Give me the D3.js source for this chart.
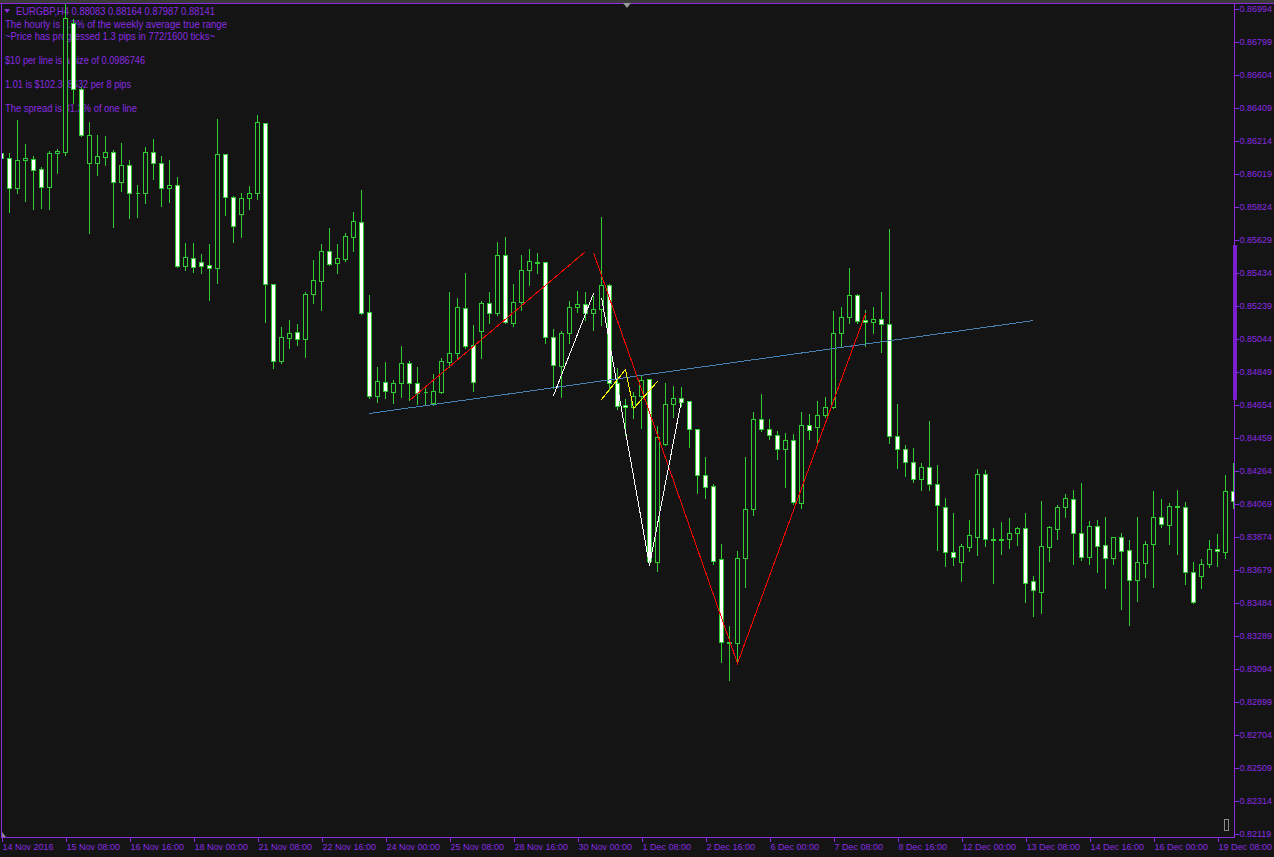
<!DOCTYPE html>
<html>
<head>
<meta charset="utf-8">
<script src="https://cdn.jsdelivr.net/npm/d3@7"></script>
<style>
  html, body { margin: 0; padding: 0; background: #141414; overflow: hidden; }
  svg { display: block; }
  text { font-family: "Liberation Sans", Arial, sans-serif; }
</style>
</head>
<body>
<div id="chart"></div>
<script>
// EURGBP H4, one value per bar, bar 0 = 14 Nov 2016 00:00
var opens = [
  0.86143,0.86114,0.85936,0.86102,0.86108,0.86049,0.85942,0.86143,0.86149,0.86911,
  0.86521,0.86084,0.86084,0.86120,0.86149,0.85972,0.86072,0.85907,0.85907,0.86149,
  0.86084,0.85936,0.85954,0.85475,0.85523,0.85499,0.85481,0.85463,0.86137,0.85883,
  0.85783,0.85877,0.85907,0.86320,0.85369,0.84914,0.85050,0.85086,0.85044,0.85310,
  0.85387,0.85564,0.85493,0.85517,0.85647,0.85735,0.85204,0.84707,0.84790,0.84731,
  0.84784,0.84902,0.84784,0.84731,0.84666,0.84731,0.84908,0.84961,0.85227,0.85009,
  0.85091,0.85257,0.85198,0.85540,0.85139,0.85263,0.85452,0.85493,0.85499,0.85056,
  0.84884,0.85080,0.85233,0.85251,0.85198,0.85221,0.85363,0.84784,0.84654,0.84642,
  0.84707,0.84808,0.83726,0.84424,0.84660,0.84695,0.84678,0.84512,0.84240,0.84175,
  0.83744,0.83248,0.83248,0.83750,0.84039,0.84571,0.84512,0.84477,0.84394,0.84447,
  0.84075,0.84536,0.84524,0.84595,0.84642,0.85080,0.85174,0.85304,0.85156,0.85144,
  0.85162,0.85133,0.84471,0.84394,0.84317,0.84217,0.84288,0.84187,0.84051,0.83785,
  0.83726,0.83815,0.83874,0.84246,0.83862,0.83859,0.83862,0.83898,0.83927,0.83614,
  0.83549,0.83815,0.83921,0.84051,0.84099,0.83898,0.83756,0.83939,0.83827,0.83750,
  0.83874,0.83797,0.83620,0.83720,0.83833,0.83992,0.83945,0.84057,0.84051,0.83667,
  0.83644,0.83714,0.83803,0.83785,0.84146
];
var highs = [
  0.86238,0.86149,0.86344,0.86202,0.86131,0.86066,0.86161,0.86173,0.87029,0.86941,
  0.86539,0.86332,0.86256,0.86250,0.86167,0.86208,0.86108,0.85960,0.86184,0.86232,
  0.86131,0.86108,0.86007,0.85617,0.85617,0.85552,0.85611,0.86350,0.86143,0.85895,
  0.85913,0.85954,0.86374,0.86326,0.85375,0.85121,0.85162,0.85139,0.85328,0.85517,
  0.85611,0.85706,0.85611,0.85676,0.85800,0.85930,0.85310,0.84884,0.84914,0.84808,
  0.85009,0.84920,0.84884,0.84772,0.84843,0.84938,0.85328,0.85292,0.85440,0.85133,
  0.85275,0.85328,0.85623,0.85653,0.85375,0.85546,0.85582,0.85558,0.85505,0.85109,
  0.85097,0.85275,0.85334,0.85328,0.85304,0.85771,0.85375,0.84878,0.84695,0.84737,
  0.84837,0.84814,0.84536,0.84790,0.84772,0.84766,0.84684,0.84518,0.84352,0.84193,
  0.83839,0.83354,0.83797,0.84352,0.84619,0.84725,0.84577,0.84506,0.84494,0.84489,
  0.84619,0.84607,0.84684,0.84707,0.85215,0.85239,0.85469,0.85316,0.85221,0.85239,
  0.85328,0.85700,0.84666,0.84424,0.84406,0.84317,0.84565,0.84305,0.84110,0.84022,
  0.83839,0.83980,0.84282,0.84276,0.83933,0.83969,0.83992,0.83939,0.84022,0.83650,
  0.84093,0.83945,0.84069,0.84134,0.84158,0.84199,0.83974,0.83980,0.83998,0.83880,
  0.83904,0.83862,0.83998,0.83856,0.84152,0.84104,0.84081,0.84158,0.84087,0.83732,
  0.83750,0.83862,0.83898,0.84246,0.84317
];
var lows = [
  0.85984,0.85794,0.85907,0.85859,0.85812,0.85818,0.85812,0.86025,0.86131,0.86439,
  0.86244,0.85670,0.86013,0.86072,0.85706,0.85919,0.85759,0.85765,0.85848,0.85989,
  0.85830,0.85854,0.85469,0.85452,0.85440,0.85434,0.85275,0.85375,0.85777,0.85617,
  0.85647,0.85812,0.85871,0.85144,0.84873,0.84902,0.84991,0.85009,0.84938,0.85257,
  0.85215,0.85481,0.85434,0.85505,0.85564,0.85192,0.84695,0.84672,0.84695,0.84666,
  0.84701,0.84684,0.84660,0.84654,0.84654,0.84725,0.84878,0.84932,0.84991,0.84737,
  0.84932,0.85139,0.85186,0.85139,0.85121,0.85215,0.85363,0.85434,0.85021,0.84754,
  0.84701,0.85021,0.85204,0.85156,0.85097,0.85127,0.84743,0.84630,0.84477,0.84577,
  0.84518,0.83709,0.83673,0.84418,0.84583,0.84648,0.84406,0.84134,0.84104,0.83714,
  0.83136,0.83029,0.83136,0.83579,0.84004,0.84500,0.84453,0.84335,0.84170,0.84069,
  0.84045,0.84453,0.84435,0.84583,0.84636,0.84997,0.85139,0.85139,0.85003,0.85080,
  0.84967,0.84430,0.84282,0.84234,0.84199,0.84152,0.84152,0.83797,0.83703,0.83709,
  0.83614,0.83791,0.83768,0.83821,0.83602,0.83774,0.83809,0.83827,0.83490,0.83407,
  0.83425,0.83732,0.83862,0.83992,0.83714,0.83738,0.83714,0.83667,0.83573,0.83714,
  0.83448,0.83354,0.83496,0.83638,0.83579,0.83933,0.83833,0.83774,0.83596,0.83484,
  0.83573,0.83697,0.83703,0.83750,0.84045
];
var closes = [
  0.86114,0.85936,0.86102,0.86114,0.86043,0.85942,0.86143,0.86155,0.86941,0.86521,
  0.86250,0.86250,0.86126,0.86149,0.85972,0.86072,0.85907,0.85904,0.86149,0.86084,
  0.85936,0.85954,0.85475,0.85529,0.85469,0.85475,0.85463,0.86137,0.85883,0.85712,
  0.85877,0.85907,0.86326,0.85369,0.84914,0.85056,0.85080,0.85044,0.85310,0.85393,
  0.85564,0.85487,0.85523,0.85653,0.85741,0.85198,0.84707,0.84796,0.84737,0.84784,
  0.84902,0.84784,0.84725,0.84728,0.84737,0.84914,0.84961,0.85233,0.85003,0.84790,
  0.85257,0.85198,0.85540,0.85144,0.85263,0.85452,0.85505,0.85499,0.85056,0.84890,
  0.85080,0.85233,0.85251,0.85198,0.85221,0.85363,0.84784,0.84648,0.84642,0.84707,
  0.84802,0.83732,0.84465,0.84660,0.84695,0.84672,0.84512,0.84240,0.84170,0.83732,
  0.83254,0.83254,0.83750,0.84039,0.84571,0.84512,0.84477,0.84394,0.84447,0.84081,
  0.84536,0.84506,0.84595,0.84642,0.85080,0.85174,0.85304,0.85150,0.85144,0.85162,
  0.85133,0.84471,0.84394,0.84317,0.84217,0.84288,0.84187,0.84063,0.83785,0.83756,
  0.83821,0.83886,0.84246,0.83862,0.83859,0.83862,0.83898,0.83927,0.83602,0.83561,
  0.83821,0.83933,0.84051,0.84104,0.83898,0.83756,0.83939,0.83821,0.83750,0.83874,
  0.83791,0.83620,0.83726,0.83833,0.83992,0.83951,0.84057,0.84054,0.83667,0.83490,
  0.83714,0.83803,0.83791,0.84146,0.84087
];

var timeLabels = ["14 Nov 2016","15 Nov 08:00","16 Nov 16:00","18 Nov 00:00","21 Nov 08:00",
  "22 Nov 16:00","24 Nov 00:00","25 Nov 08:00","28 Nov 16:00","30 Nov 00:00","1 Dec 08:00",
  "2 Dec 16:00","6 Dec 00:00","7 Dec 08:00","8 Dec 16:00","12 Dec 00:00","13 Dec 08:00",
  "14 Dec 16:00","16 Dec 00:00","19 Dec 08:00"];
var barsPerLabel = 8;

var priceTicks = [0.86994,0.86799,0.86604,0.86409,0.86214,0.86019,0.85824,0.85629,0.85434,
  0.85239,0.85044,0.84849,0.84654,0.84459,0.84264,0.84069,0.83874,0.83679,0.83484,0.83289,
  0.83094,0.82899,0.82704,0.82509,0.82314,0.82119];

// drawn objects: [bar index, price]
var blueTrend = [[46, 0.84607], [129, 0.85156]];
var redLeg1 = [[51, 0.84684], [73, 0.85564]];
var redLeg2 = [[74, 0.85558], [92, 0.83130], [108, 0.85198]];
var whiteLeg1 = [[69, 0.84713], [74, 0.85316]];
var whiteLeg2 = [[75, 0.85292], [81, 0.83709], [85, 0.84684]];
var yellowLeg = [[75, 0.84689], [78, 0.84867], [79, 0.84636], [82, 0.84796]];
var axisBand = [0.85599, 0.84684];

var infoLines = [
  "The hourly is 2.3% of the weekly average true range",
  "~Price has progressed  1.3  pips in 772/1600 ticks~",
  "",
  "$10 per line is a size of 0.0986746",
  "",
  "1.01 is $102.398632 per 8 pips",
  "",
  "The spread is 31.3% of one line"
];
var header = "EURGBP,H4  0.88083 0.88164 0.87987 0.88141";

var W = 1274, H = 857;
var plot = { left: 1, right: 1234, top: 3, bottom: 837 };
var purple = "#8a2be2", green = "#32cd32", bg = "#141414";

var svg = d3.select("#chart").append("svg")
  .attr("width", W).attr("height", H)
  .style("background", bg);

var x = d3.scaleLinear().domain([0, opens.length - 1]).range([1, 1233]);
var y = d3.scaleLinear().domain([0.82119, 0.86994]).range([834, 9]);

svg.append("defs").append("clipPath").attr("id", "plotclip")
  .append("rect")
  .attr("x", plot.left + 1).attr("y", plot.top + 1)
  .attr("width", plot.right - plot.left - 1)
  .attr("height", plot.bottom - plot.top - 1);

// top strip
svg.append("rect").attr("x", 0).attr("y", 0).attr("width", W).attr("height", 3).attr("fill", "#3a3a3a");

// info text (behind the bars)
var info = svg.append("g").attr("fill", purple).attr("font-size", "10.5px");
info.append("path")
  .attr("d", "M4,9 L10,9 L7,13 Z").attr("fill", purple);
info.append("text").attr("x", 16).attr("y", 15).text(header)
  .attr("textLength", 199).attr("lengthAdjust", "spacingAndGlyphs");
var infoWidths = [222, 210, 0, 140, 0, 126, 0, 132];
infoLines.forEach(function(t, i) {
  if (!t) return;
  info.append("text").attr("x", 5).attr("y", 28 + i * 12).text(t)
    .attr("textLength", infoWidths[i]).attr("lengthAdjust", "spacingAndGlyphs");
});

var g = svg.append("g").attr("clip-path", "url(#plotclip)");

var bars = d3.range(opens.length).map(function(i) {
  return { i: i, o: opens[i], h: highs[i], l: lows[i], c: closes[i] };
});

function px(v) { return Math.round(v) + 0.5; }

// wicks
g.selectAll(".wick").data(bars).enter().append("line")
  .attr("class", "wick")
  .attr("x1", function(d) { return px(x(d.i)); })
  .attr("x2", function(d) { return px(x(d.i)); })
  .attr("y1", function(d) { return px(y(d.h)); })
  .attr("y2", function(d) { return px(y(d.l)); })
  .attr("stroke", green).attr("stroke-width", 1)
  .attr("shape-rendering", "crispEdges");

// bodies: down bars filled white, up bars hollow
g.selectAll(".body").data(bars).enter().append("path")
  .attr("class", "body")
  .attr("d", function(d) {
    var cx = Math.round(x(d.i));
    var y0 = px(y(Math.max(d.o, d.c))), y1 = px(y(Math.min(d.o, d.c)));
    return "M" + (cx - 1.5) + "," + y0 + "H" + (cx + 2.5) + "V" + y1 + "H" + (cx - 1.5) + "Z";
  })
  .attr("fill", function(d) { return d.c < d.o ? "#ffffff" : bg; })
  .attr("stroke", green).attr("stroke-width", 1)
  .attr("shape-rendering", "crispEdges");

// drawn lines
var lineGen = d3.line()
  .x(function(d) { return x(d[0]) + 0.5; })
  .y(function(d) { return y(d[1]) + 0.5; });

[[blueTrend, "#4682b4"], [redLeg1, "#ff0000"], [redLeg2, "#ff0000"],
 [whiteLeg1, "#ffffff"], [whiteLeg2, "#ffffff"], [yellowLeg, "#ffff00"]]
  .forEach(function(s) {
    g.append("path").attr("d", lineGen(s[0]))
      .attr("fill", "none").attr("stroke", s[1]).attr("stroke-width", 1)
      .attr("shape-rendering", "crispEdges");
  });

// frame
var frame = svg.append("g").attr("stroke", purple).attr("shape-rendering", "crispEdges");
frame.append("line").attr("x1", 0).attr("x2", W).attr("y1", plot.top + 0.5).attr("y2", plot.top + 0.5);
frame.append("line").attr("x1", plot.left + 0.5).attr("x2", plot.left + 0.5).attr("y1", plot.top).attr("y2", plot.bottom + 1);
frame.append("line").attr("x1", plot.left).attr("x2", plot.right + 1).attr("y1", plot.bottom + 0.5).attr("y2", plot.bottom + 0.5);
frame.append("line").attr("x1", plot.right + 0.5).attr("x2", plot.right + 0.5).attr("y1", plot.top).attr("y2", plot.bottom + 1);

// band on the price scale
svg.append("rect")
  .attr("x", plot.right - 1).attr("width", 4)
  .attr("y", y(axisBand[0])).attr("height", y(axisBand[1]) - y(axisBand[0]))
  .attr("fill", "#7a1fd0");

// price axis
var yAxis = d3.axisRight(y).tickValues(priceTicks).tickSize(4).tickPadding(1)
  .tickFormat(d3.format(".5f"));
var ya = svg.append("g").attr("transform", "translate(" + (plot.right + 0.5) + ",0)").call(yAxis);
ya.select(".domain").remove();
ya.selectAll("line").attr("stroke", purple).attr("shape-rendering", "crispEdges");
ya.selectAll("text").attr("fill", purple).attr("font-size", "9px")
  .attr("font-family", "Liberation Sans, Arial, sans-serif");

// time axis
var tickBars = timeLabels.map(function(t, k) { return k * barsPerLabel; });
var xAxis = d3.axisBottom(x).tickValues(tickBars).tickSize(4).tickPadding(2)
  .tickFormat(function(d, k) { return timeLabels[k]; });
var xa = svg.append("g").attr("transform", "translate(0," + (plot.bottom + 0.5) + ")").call(xAxis);
xa.select(".domain").remove();
xa.selectAll("line").attr("stroke", purple).attr("shape-rendering", "crispEdges")
  .attr("transform", "translate(0.5,0)");
xa.selectAll("text").attr("fill", purple).attr("font-size", "9px")
  .attr("font-family", "Liberation Sans, Arial, sans-serif")
  .attr("text-anchor", "start").attr("dx", 1);

// small markers
svg.append("path").attr("d", "M623,3 L631,3 L627,8 Z").attr("fill", "#9a9a9a");
svg.append("rect").attr("x", 1224.5).attr("y", 819.5).attr("width", 4).attr("height", 11)
  .attr("fill", "none").attr("stroke", "#8a8a8a");
svg.append("path").attr("d", "M2,832 L2,837 L6,837 Z").attr("fill", "#8a8a8a");
</script>
</body>
</html>
